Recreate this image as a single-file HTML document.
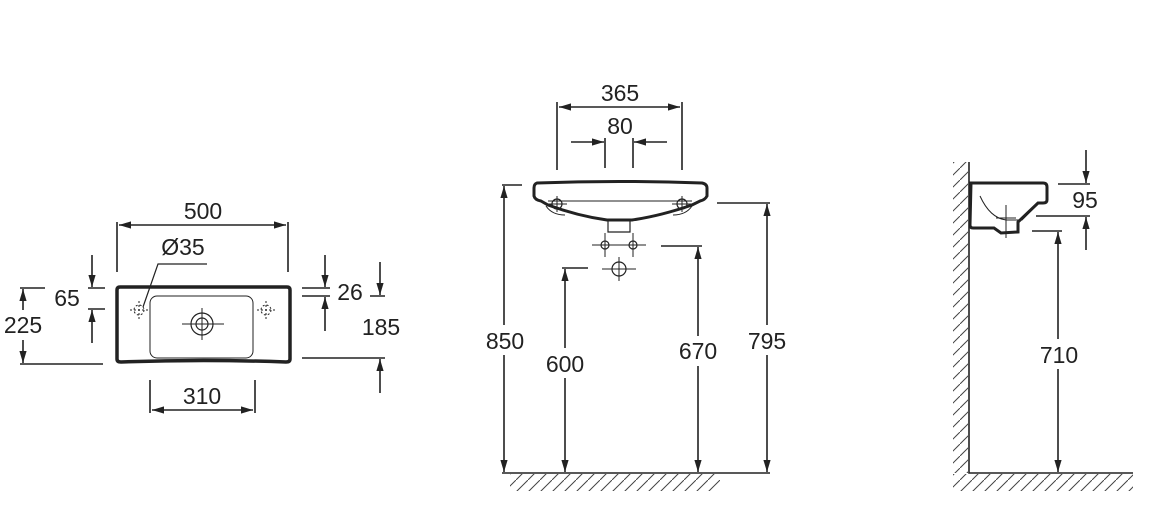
<!DOCTYPE html>
<html><head><meta charset="utf-8"><style>
html,body{margin:0;padding:0;background:#fff}
svg{display:block}
text{font-family:"Liberation Sans",sans-serif;font-size:23px;fill:#222;text-anchor:middle}
</style></head><body>
<svg width="1166" height="518" viewBox="0 0 1166 518" xmlns="http://www.w3.org/2000/svg">
<defs>
<marker id="a" viewBox="0 0 10 10" refX="10" refY="5" markerWidth="12" markerHeight="12" markerUnits="userSpaceOnUse" orient="auto-start-reverse"><path d="M0,2 L10,5 L0,8 z" fill="#222"/></marker>
<pattern id="h" width="12" height="12" patternUnits="userSpaceOnUse"><path d="M-1,13 L13,-1" stroke="#444" stroke-width="1"/></pattern>
</defs>
<g stroke="#222" stroke-width="1.6" fill="none">
<path d="M120,287 L287,287 Q290,287 290,290 L290,359 Q290,362 286,362 Q204,359 121,362 Q117,362 117,359 L117,290 Q117,287 120,287 Z" stroke-width="3.5"/>
<rect x="150" y="296" width="103" height="62" rx="7" stroke-width="1"/>
<circle cx="202" cy="324" r="11" stroke-width="1.2"/><circle cx="202" cy="324" r="6" stroke-width="1.2"/>
<path d="M182,324 H224 M202,308 V340" stroke-width="1"/>
<g stroke-dasharray="2,2" stroke-width="1"><circle cx="139" cy="310" r="5"/><circle cx="266" cy="310" r="5"/><path d="M130,310H148M139,301V319M257,310H275M266,301V319"/></g>
<path d="M117,222V272M288,222V272"/>
<path d="M119,225H286" marker-start="url(#a)" marker-end="url(#a)"/>
<path d="M143,307 L158,264 H207" stroke-width="1.2"/>
<path d="M88,288H105M88,309H105M20,288H45M20,364H103"/>
<path d="M92,255V287" marker-end="url(#a)"/><path d="M92,343V310" marker-end="url(#a)"/>
<path d="M23,310V289" marker-end="url(#a)"/><path d="M23,340V363" marker-end="url(#a)"/>
<path d="M302,288H330M302,296H330"/>
<path d="M325,255V287" marker-end="url(#a)"/><path d="M325,331V297" marker-end="url(#a)"/>
<path d="M370,296H385M302,358H385"/>
<path d="M380,262V295" marker-end="url(#a)"/><path d="M380,393V359" marker-end="url(#a)"/>
<path d="M150,380V413M255,380V413"/>
<path d="M152,410H253" marker-start="url(#a)" marker-end="url(#a)"/>

<path d="M557,102V170M682,102V170"/>
<path d="M559,107H680" marker-start="url(#a)" marker-end="url(#a)"/>
<path d="M605,138V168M633,138V168"/>
<path d="M571,142H604" marker-end="url(#a)"/><path d="M667,142H634" marker-end="url(#a)"/>
<path d="M537,183 Q619,180 702,183 Q707,184 707,188 L707,196 Q705,200 700,201 L692,205 Q660,216 632,220 L607,220 Q578,216 548,205 L541,201 Q535,200 534,196 L534,188 Q534,184 537,183 Z" stroke-width="3"/>
<path d="M548,201H692" stroke-width="1"/>
<path d="M546,206 Q552,215 565,215 M692,206 Q686,215 673,215" stroke-width="1"/>
<path d="M608,221V232H630V221" stroke-width="1.2"/>
<circle cx="557" cy="204" r="5" stroke-width="1.2"/><circle cx="682" cy="204" r="5" stroke-width="1.2"/>
<path d="M547,204H567M557,196V212M672,204H692M682,196V212" stroke-width="1"/>
<circle cx="605" cy="245" r="4" stroke-width="1.2"/><circle cx="633" cy="245" r="4" stroke-width="1.2"/>
<path d="M592,245H646M605,233V257M633,233V257" stroke-width="1"/>
<circle cx="619" cy="269" r="7" stroke-width="1.2"/>
<path d="M602,269H636M619,257V281" stroke-width="1"/>
<path d="M502,185H522M562,268H588M661,246H702M717,203H770"/>
<path d="M504,186V472" marker-start="url(#a)" marker-end="url(#a)"/>
<path d="M565,269V472" marker-start="url(#a)" marker-end="url(#a)"/>
<path d="M698,247V472" marker-start="url(#a)" marker-end="url(#a)"/>
<path d="M767,204V472" marker-start="url(#a)" marker-end="url(#a)"/>
<path d="M502,473H770"/>
<rect x="510" y="474" width="210" height="17" fill="url(#h)" stroke="none"/>

<path d="M969,162V473H1133"/>
<rect x="953" y="162" width="15" height="311" fill="url(#h)" stroke="none"/>
<rect x="953" y="474" width="180" height="17" fill="url(#h)" stroke="none"/>
<path d="M971,183 H1043 Q1047,183 1047,187 L1047,200 Q1047,203 1043,203 L1038,203 L1018,222 L1018,232 L1001,233 L994,228 L973,228 Q970,228 970,225 Z" stroke-width="3"/>
<path d="M980,196 Q990,218 1006,220 L1022,220 L1038,204" stroke-width="1"/>
<path d="M1006,205V238M996,218H1016" stroke-width="1"/>
<path d="M1058,184H1090M1036,216H1090M1032,231H1062"/>
<path d="M1086,150V183" marker-end="url(#a)"/><path d="M1086,250V217" marker-end="url(#a)"/>
<path d="M1058,232V472" marker-start="url(#a)" marker-end="url(#a)"/>
</g>
<g>
<rect x="484" y="325" width="42" height="30" fill="#fff"/>
<rect x="544" y="348" width="42" height="30" fill="#fff"/>
<rect x="677" y="336" width="42" height="30" fill="#fff"/>
<rect x="746" y="325" width="42" height="30" fill="#fff"/>
<rect x="1038" y="339" width="42" height="30" fill="#fff"/>
</g>
<text x="203" y="219">500</text>
<text x="183" y="255">Ø35</text>
<text x="67" y="306">65</text>
<text x="23" y="333">225</text>
<text x="350" y="300">26</text>
<text x="381" y="335">185</text>
<text x="202" y="404">310</text>
<text x="620" y="101">365</text>
<text x="620" y="134">80</text>
<text x="505" y="349">850</text>
<text x="565" y="372">600</text>
<text x="698" y="359">670</text>
<text x="767" y="349">795</text>
<text x="1085" y="208">95</text>
<text x="1059" y="363">710</text>
</svg>
</body></html>
